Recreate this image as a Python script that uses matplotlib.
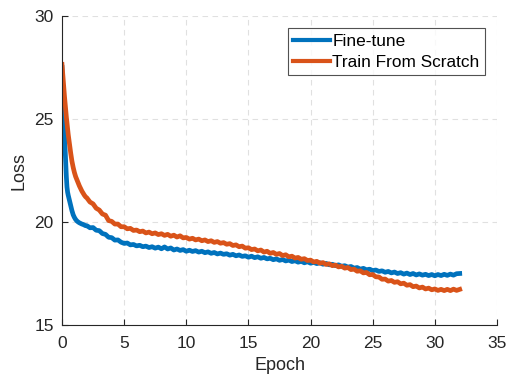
import matplotlib
matplotlib.use("Agg")
import matplotlib.pyplot as plt

plt.rcParams['font.family'] = ['Liberation Sans', 'DejaVu Sans']

epochs = [0, 0.05, 0.1, 0.15, 0.2, 0.25, 0.3, 0.35, 0.4, 0.45, 0.5, 0.6, 0.7, 0.8, 0.9,
          1.0, 1.1, 1.2, 1.3, 1.4, 1.5, 1.6, 1.7, 1.8, 1.9,
          2.0, 2.25, 2.5, 2.75, 3.0, 3.25, 3.5, 3.75, 4.0, 4.25, 4.5, 4.75,
          5.0, 5.25, 5.5, 5.75, 6.0, 6.25, 6.5, 6.75, 7.0, 7.25, 7.5, 7.75,
          8.0, 8.25, 8.5, 8.75, 9.0, 9.25, 9.5, 9.75, 10.0, 10.25, 10.5, 10.75,
          11.0, 11.25, 11.5, 11.75, 12.0, 12.25, 12.5, 12.75, 13.0, 13.25, 13.5, 13.75,
          14.0, 14.25, 14.5, 14.75, 15.0, 15.25, 15.5, 15.75, 16.0, 16.25, 16.5, 16.75,
          17.0, 17.25, 17.5, 17.75, 18.0, 18.25, 18.5, 18.75, 19.0, 19.25, 19.5, 19.75,
          20.0, 20.25, 20.5, 20.75, 21.0, 21.25, 21.5, 21.75, 22.0, 22.25, 22.5, 22.75,
          23.0, 23.25, 23.5, 23.75, 24.0, 24.25, 24.5, 24.75, 25.0, 25.25, 25.5, 25.75,
          26.0, 26.25, 26.5, 26.75, 27.0, 27.25, 27.5, 27.75, 28.0, 28.25, 28.5, 28.75,
          29.0, 29.25, 29.5, 29.75, 30.0, 30.25, 30.5, 30.75, 31.0, 31.25, 31.5, 31.75, 32.0]

fine_tune = [27.5, 26.6, 25.7, 24.9, 24.2, 23.5, 22.8, 22.2, 21.7, 21.45, 21.3, 21.05, 20.8, 20.55, 20.35,
             20.22, 20.12, 20.05, 20.0, 19.96, 19.93, 19.9, 19.88, 19.85, 19.82,
             19.82, 19.72, 19.73, 19.60, 19.58, 19.44, 19.40, 19.26, 19.24, 19.12, 19.13, 19.02,
             18.96, 18.98, 18.89, 18.91, 18.84, 18.87, 18.80, 18.83, 18.76, 18.80, 18.73, 18.78,
             18.70, 18.79, 18.69, 18.74, 18.64, 18.69, 18.62, 18.66, 18.58, 18.63, 18.57, 18.61,
             18.54, 18.58, 18.51, 18.55, 18.48, 18.52, 18.45, 18.49, 18.43, 18.46, 18.39, 18.43,
             18.36, 18.40, 18.33, 18.36, 18.29, 18.34, 18.27, 18.31, 18.24, 18.28, 18.21, 18.24,
             18.17, 18.21, 18.14, 18.18, 18.11, 18.15, 18.08, 18.12, 18.05, 18.09, 18.02, 18.07,
             18.00, 18.04, 17.98, 18.02, 17.95, 17.99, 17.92, 17.95, 17.88, 17.92, 17.85, 17.88,
             17.81, 17.84, 17.76, 17.79, 17.71, 17.75, 17.68, 17.71, 17.64, 17.67, 17.60, 17.63,
             17.56, 17.60, 17.53, 17.57, 17.50, 17.54, 17.47, 17.52, 17.45, 17.50, 17.43, 17.48,
             17.42, 17.46, 17.40, 17.45, 17.39, 17.45, 17.40, 17.46, 17.41, 17.47, 17.42, 17.49, 17.50]

scratch = [27.65, 27.25, 26.85, 26.45, 26.1, 25.75, 25.42, 25.1, 24.8, 24.5, 24.25, 23.8, 23.35, 22.95, 22.65,
           22.4, 22.2, 22.05, 21.9, 21.75, 21.62, 21.5, 21.4, 21.3, 21.22,
           21.17, 20.97, 20.88, 20.67, 20.58, 20.39, 20.33, 20.07, 20.03, 19.90, 19.90, 19.77,
           19.77, 19.67, 19.69, 19.59, 19.61, 19.53, 19.56, 19.47, 19.51, 19.43, 19.47, 19.39,
           19.43, 19.35, 19.40, 19.31, 19.36, 19.27, 19.33, 19.23, 19.25, 19.17, 19.21, 19.13,
           19.17, 19.09, 19.13, 19.05, 19.09, 19.01, 19.05, 18.97, 19.00, 18.92, 18.95, 18.86,
           18.89, 18.80, 18.83, 18.73, 18.75, 18.66, 18.69, 18.60, 18.64, 18.54, 18.58, 18.48,
           18.52, 18.43, 18.47, 18.37, 18.41, 18.31, 18.34, 18.25, 18.28, 18.19, 18.22, 18.13,
           18.15, 18.06, 18.09, 18.00, 18.03, 17.94, 17.97, 17.88, 17.91, 17.82, 17.85, 17.76,
           17.79, 17.69, 17.71, 17.61, 17.63, 17.53, 17.55, 17.44, 17.45, 17.34, 17.33, 17.22,
           17.23, 17.13, 17.16, 17.07, 17.10, 17.00, 17.03, 16.93, 16.96, 16.86, 16.89, 16.80,
           16.84, 16.75, 16.79, 16.71, 16.75, 16.68, 16.73, 16.67, 16.73, 16.67, 16.74, 16.68, 16.73]

series_labels = ['Fine-tune', 'Train From Scratch']
x_ticks = [0, 5, 10, 15, 20, 25, 30, 35]
y_ticks = [15, 20, 25, 30]

txt = '#262626'
fig = plt.figure(figsize=(5.09, 3.81), dpi=100)
ax = fig.add_axes([62/509, 56/381, 435/509, 309/381])

ax.plot(epochs, fine_tune, color='#0072BD', lw=3.4, label=series_labels[0])
ax.plot(epochs, scratch, color='#D95319', lw=3.4, label=series_labels[1])

ax.set_xlim(0, 35)
ax.set_ylim(15, 30)
ax.set_xticks(x_ticks)
ax.set_yticks(y_ticks)
ax.grid(True, linestyle=(0, (5, 4)), color='#e0e0e0', linewidth=0.8)
ax.set_axisbelow(True)
for s in ['top', 'right']:
    ax.spines[s].set_visible(False)
for s in ['left', 'bottom']:
    ax.spines[s].set_color(txt)
    ax.spines[s].set_linewidth(0.8)
ax.tick_params(direction='in', length=4, width=0.8, colors=txt, labelsize=12.5)
ax.tick_params(axis='x', pad=8)
ax.tick_params(axis='y', pad=6)
ax.set_xlabel('Epoch', fontsize=13, color=txt, labelpad=4)
ax.set_ylabel('Loss', fontsize=13, color=txt, labelpad=5)

leg = ax.legend(loc='upper right', bbox_to_anchor=(485/509, 1 - 28/381), bbox_transform=fig.transFigure,
                fontsize=12.4, frameon=True, fancybox=False, handlelength=2.1, handletextpad=0.15,
                borderpad=0.32, labelspacing=0.36, borderaxespad=0)
leg.get_frame().set_edgecolor('#262626')
leg.get_frame().set_linewidth(0.8)
for line in leg.get_lines():
    line.set_linewidth(3)
for t in leg.get_texts():
    t.set_color('black')

fig.savefig('out.png', dpi=100)
